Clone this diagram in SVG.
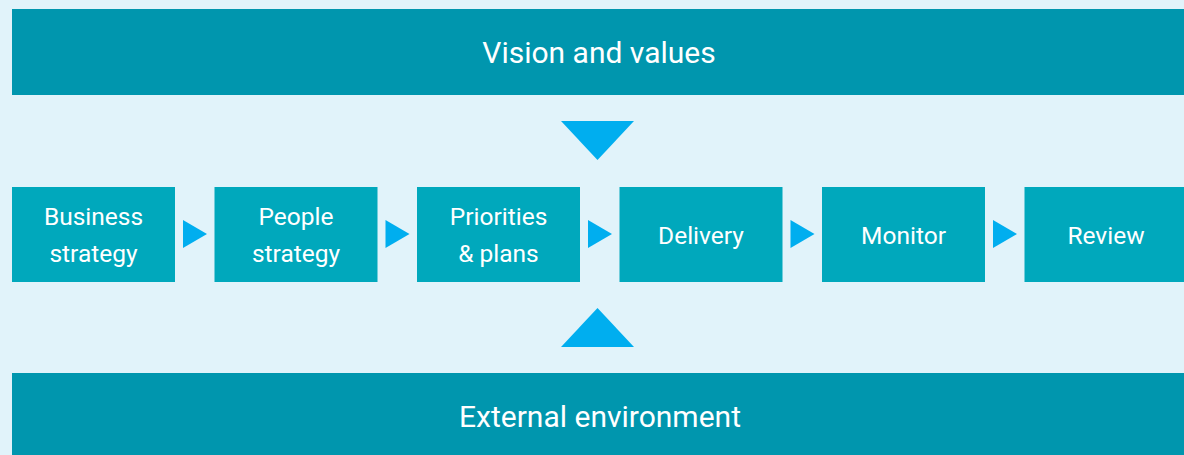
<svg xmlns="http://www.w3.org/2000/svg" width="1184" height="455" viewBox="0 0 1184 455">
<style>
.band{fill:#0096AE}
.box{fill:#00A8BC}
.arr{fill:#00AEEF}
.t{fill:#FFFFFF;font-family:Roboto,"Noto Sans",sans-serif;text-anchor:middle}
.bt{font-size:30px}
.nt{font-size:24.5px}
</style>
<rect x="0" y="0" width="1184" height="455" fill="#E1F3FA"/>
<g id="vision">
<rect class="band" x="12" y="9" width="1172" height="86"/>
<text class="t bt" x="599" y="63">Vision and values</text>
</g>
<g id="external">
<rect class="band" x="12" y="373" width="1172" height="82"/>
<text class="t bt" x="600" y="427">External environment</text>
</g>
<g id="business">
<rect class="box" x="12" y="187" width="163" height="95"/>
<text class="t nt" x="93.5" y="225">Business</text>
<text class="t nt" x="93.5" y="262">strategy</text>
</g>
<g id="people">
<rect class="box" x="214.5" y="187" width="163" height="95"/>
<text class="t nt" x="296" y="225">People</text>
<text class="t nt" x="296" y="262">strategy</text>
</g>
<g id="priorities">
<rect class="box" x="417" y="187" width="163" height="95"/>
<text class="t nt" x="498.5" y="225">Priorities</text>
<text class="t nt" x="498.5" y="262">&amp; plans</text>
</g>
<g id="delivery">
<rect class="box" x="619.5" y="187" width="163" height="95"/>
<text class="t nt" x="701" y="244">Delivery</text>
</g>
<g id="monitor">
<rect class="box" x="822" y="187" width="163" height="95"/>
<text class="t nt" x="903.5" y="244">Monitor</text>
</g>
<g id="review">
<rect class="box" x="1024.5" y="187" width="163" height="95"/>
<text class="t nt" x="1106" y="244">Review</text>
</g>
<g id="connectors">
<polygon class="arr" points="561,121 634,121 597.5,160"/>
<polygon class="arr" points="597.5,308 634,347 561,347"/>
<polygon class="arr" points="183,220 207,234 183,248"/>
<polygon class="arr" points="385.5,220 409.5,234 385.5,248"/>
<polygon class="arr" points="588,220 612,234 588,248"/>
<polygon class="arr" points="790.5,220 814.5,234 790.5,248"/>
<polygon class="arr" points="993,220 1017,234 993,248"/>
</g>
</svg>
